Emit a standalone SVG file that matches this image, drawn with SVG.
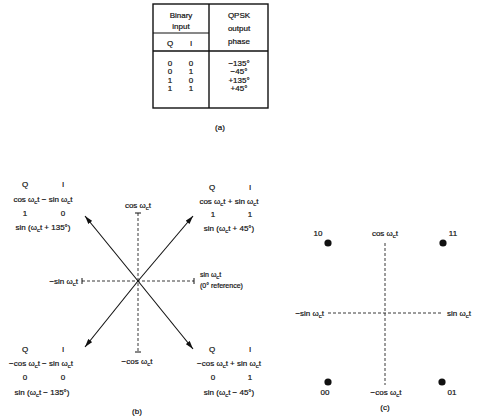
<svg xmlns="http://www.w3.org/2000/svg" width="477" height="418" viewBox="0 0 477 418">
<style>
text{font-family:"Liberation Sans",Arial,sans-serif;font-size:8px;fill:#111;stroke:#111;stroke-width:0.2;text-anchor:middle}
.s{font-size:6px}
.ln{stroke:#111;stroke-width:1;fill:none}
.tb{stroke:#111;stroke-width:1.4;fill:none}
.ds{stroke:#222;stroke-width:0.9;stroke-dasharray:3 2;fill:none}
.ar{stroke:#111;stroke-width:1.1;fill:none;marker-end:url(#ah)}
</style>
<defs>
<marker id="ah" viewBox="0 0 10 6" refX="10" refY="3" markerWidth="9" markerHeight="5" orient="auto" markerUnits="userSpaceOnUse">
<path d="M0,0 L10,3 L0,6 Z" fill="#111"/>
</marker>
</defs>
<rect width="477" height="418" fill="#fff"/>

<g id="table">
<rect class="tb" x="153" y="4" width="115" height="104"/>
<line class="tb" x1="209" y1="4" x2="209" y2="108"/>
<line class="ln" x1="153" y1="33" x2="209" y2="33"/>
<line class="tb" x1="153" y1="51" x2="268" y2="51"/>
<text x="181" y="18">Binary</text>
<text x="181" y="29">input</text>
<text x="170" y="46">Q</text>
<text x="191" y="46">I</text>
<text x="239" y="18">QPSK</text>
<text x="239" y="31">output</text>
<text x="239" y="44">phase</text>
<text x="170" y="66">0</text><text x="191" y="66">0</text><text x="239" y="66">−135°</text>
<text x="170" y="74.3">0</text><text x="191" y="74.3">1</text><text x="239" y="74.3">−45°</text>
<text x="170" y="82.6">1</text><text x="191" y="82.6">0</text><text x="239" y="82.6">+135°</text>
<text x="170" y="91">1</text><text x="191" y="91">1</text><text x="239" y="91">+45°</text>
<text x="220" y="130">(a)</text>
</g>

<g id="connectors">
<line class="ds" x1="138" y1="213" x2="138" y2="352"/>
<line class="ln" x1="135" y1="213" x2="141" y2="213"/>
<line class="ln" x1="135" y1="352" x2="141" y2="352"/>
<line class="ds" x1="82" y1="281" x2="194" y2="281"/>
<line class="ln" x1="82" y1="278" x2="82" y2="284"/>
<line class="ln" x1="194" y1="278" x2="194" y2="284"/>
<line class="ar" x1="138" y1="281" x2="85" y2="216"/>
<line class="ar" x1="138" y1="281" x2="193" y2="216"/>
<line class="ar" x1="138" y1="281" x2="85" y2="347"/>
<line class="ar" x1="138" y1="281" x2="193" y2="349"/>
<line class="ds" x1="385" y1="243" x2="385" y2="385"/>
<line class="ds" x1="328" y1="313" x2="442" y2="313"/>
</g>

<g id="axis-b">
<text x="138" y="208">cos ω<tspan class="s" dy="2">c</tspan><tspan dy="-2">t</tspan></text>
<text x="137" y="364">−cos ω<tspan class="s" dy="2">c</tspan><tspan dy="-2">t</tspan></text>
<text x="78" y="284" style="text-anchor:end">−sin ω<tspan class="s" dy="2">c</tspan><tspan dy="-2">t</tspan></text>
<text x="200" y="277" style="text-anchor:start;font-size:7px">sin ω<tspan class="s" dy="2">c</tspan><tspan dy="-2">t</tspan></text>
<text x="200" y="288" style="text-anchor:start;font-size:7px">(0° reference)</text>
<text x="137" y="414">(b)</text>
</g>

<g id="node-10">
<text x="25" y="187">Q</text><text x="63" y="187">I</text>
<text x="43" y="202">cos ω<tspan class="s" dy="2">c</tspan><tspan dy="-2">t − sin ω</tspan><tspan class="s" dy="2">c</tspan><tspan dy="-2">t</tspan></text>
<text x="25" y="216">1</text><text x="63" y="216">0</text>
<text x="43" y="230">sin (ω<tspan class="s" dy="2">c</tspan><tspan dy="-2">t + 135°)</tspan></text>
</g>

<g id="node-11">
<text x="212" y="190">Q</text><text x="250" y="190">I</text>
<text x="229" y="204">cos ω<tspan class="s" dy="2">c</tspan><tspan dy="-2">t + sin ω</tspan><tspan class="s" dy="2">c</tspan><tspan dy="-2">t</tspan></text>
<text x="213" y="217">1</text><text x="250" y="217">1</text>
<text x="229" y="231">sin (ω<tspan class="s" dy="2">c</tspan><tspan dy="-2">t + 45°)</tspan></text>
</g>

<g id="node-00">
<text x="25" y="352">Q</text><text x="63" y="352">I</text>
<text x="41" y="366">−cos ω<tspan class="s" dy="2">c</tspan><tspan dy="-2">t − sin ω</tspan><tspan class="s" dy="2">c</tspan><tspan dy="-2">t</tspan></text>
<text x="25" y="380">0</text><text x="63" y="380">0</text>
<text x="42" y="395">sin (ω<tspan class="s" dy="2">c</tspan><tspan dy="-2">t − 135°)</tspan></text>
</g>

<g id="node-01">
<text x="212" y="352">Q</text><text x="250" y="352">I</text>
<text x="229" y="366">−cos ω<tspan class="s" dy="2">c</tspan><tspan dy="-2">t + sin ω</tspan><tspan class="s" dy="2">c</tspan><tspan dy="-2">t</tspan></text>
<text x="213" y="380">0</text><text x="250" y="380">1</text>
<text x="229" y="395">sin (ω<tspan class="s" dy="2">c</tspan><tspan dy="-2">t − 45°)</tspan></text>
</g>

<g id="constellation-c">
<circle cx="328" cy="243" r="3.6" fill="#111"/>
<circle cx="443" cy="243" r="3.6" fill="#111"/>
<circle cx="328" cy="382" r="3.6" fill="#111"/>
<circle cx="442" cy="382" r="3.6" fill="#111"/>
<text x="318" y="236">10</text>
<text x="453" y="236">11</text>
<text x="325" y="395">00</text>
<text x="452" y="395">01</text>
<text x="385" y="236">cos ω<tspan class="s" dy="2">c</tspan><tspan dy="-2">t</tspan></text>
<text x="386" y="395">−cos ω<tspan class="s" dy="2">c</tspan><tspan dy="-2">t</tspan></text>
<text x="324" y="316" style="text-anchor:end">−sin ω<tspan class="s" dy="2">c</tspan><tspan dy="-2">t</tspan></text>
<text x="447" y="316" style="text-anchor:start">sin ω<tspan class="s" dy="2">c</tspan><tspan dy="-2">t</tspan></text>
<text x="385" y="410">(c)</text>
</g>
</svg>
